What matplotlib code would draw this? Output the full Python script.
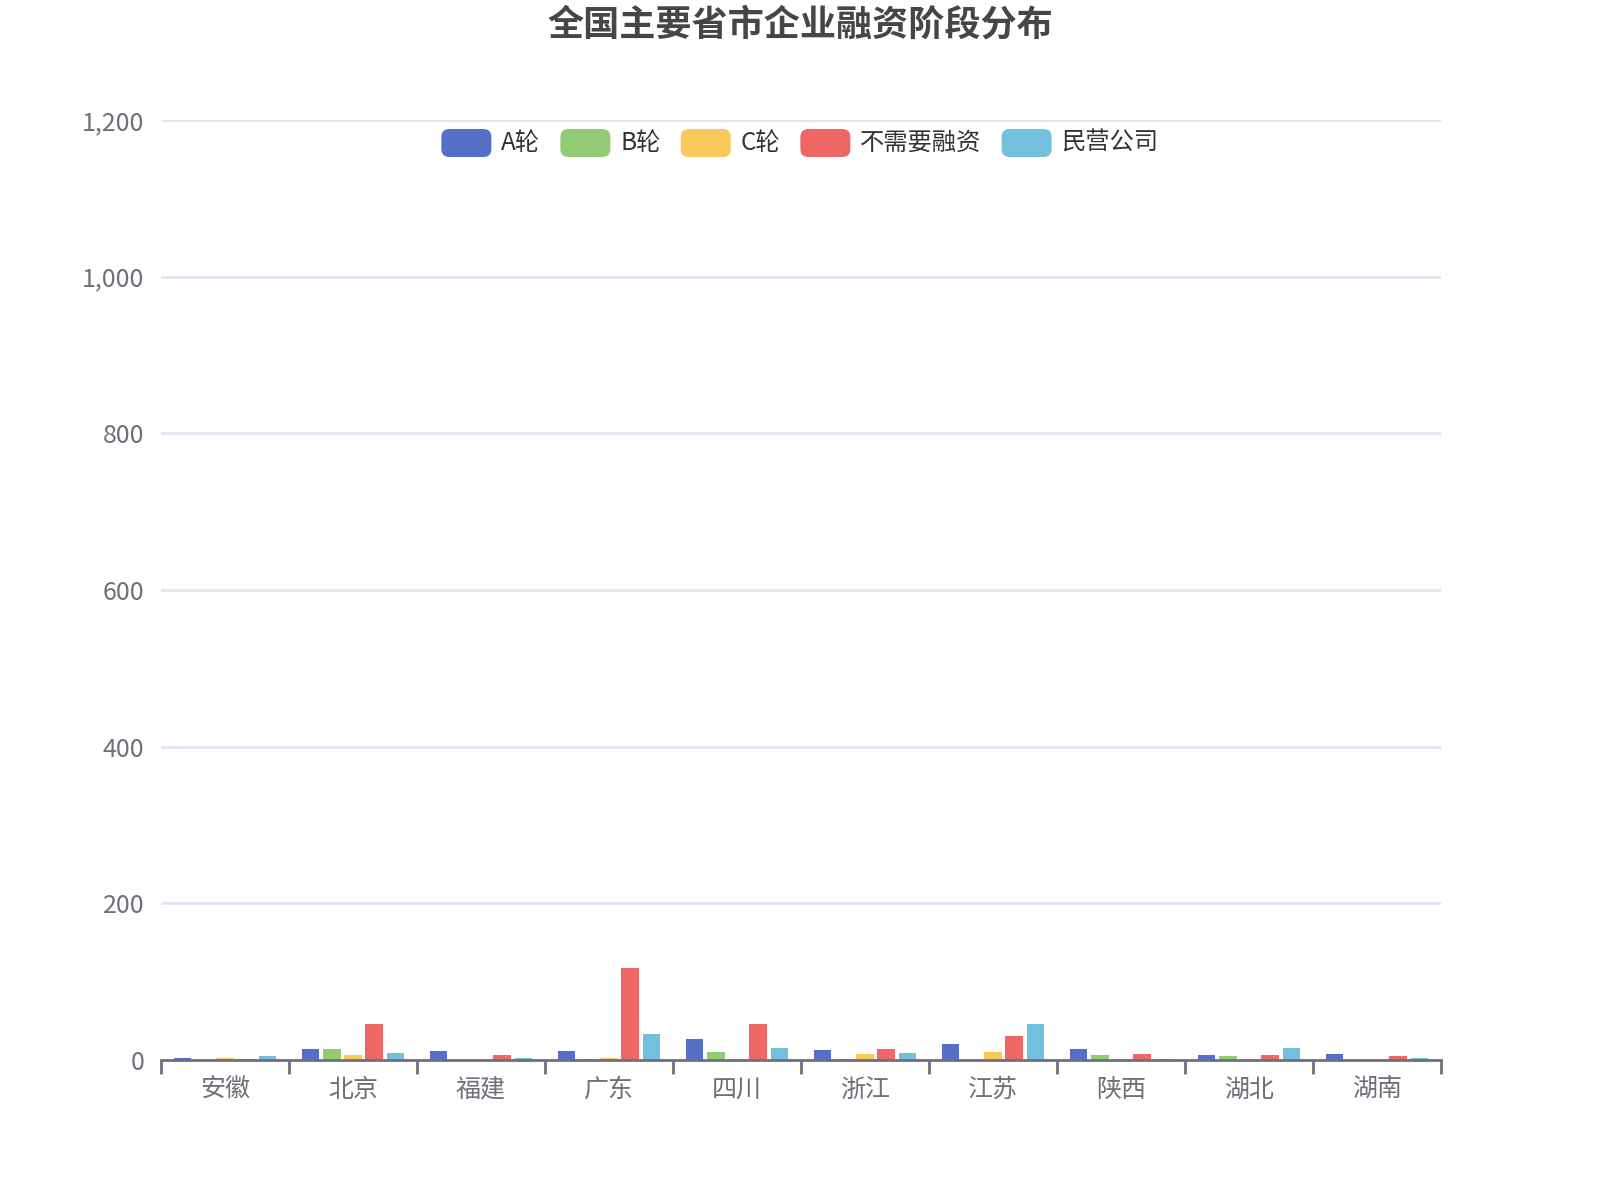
import numpy as np
import matplotlib.pyplot as plt
from matplotlib.patches import FancyBboxPatch

plt.rcParams['font.family'] = ['Noto Sans CJK SC', 'DejaVu Sans']

# 省市
provinces = ['安徽', '北京', '福建', '广东', '四川', '浙江', '江苏', '陕西', '湖北', '湖南']
series_names = ['A轮', 'B轮', 'C轮', '不需要融资', '民营公司']

# 各融资阶段企业数
a_round = [2, 14, 12, 11, 27, 13, 20, 14, 7, 8]
b_round = [0, 14, 0, 1, 10, 1, 0, 6, 5, 0]
c_round = [2, 6, 0, 3, 1, 8, 10, 1, 1, 0]
no_need = [1, 46, 6, 118, 46, 14, 31, 8, 6, 5]
private = [5, 9, 2, 33, 15, 9, 46, 1, 15, 3]

colors = ['#5470c6', '#91cc75', '#fac858', '#ee6666', '#73c0de']
axis_color = '#6E7079'

W, H = 1600, 1200
fig = plt.figure(figsize=(16, 12), dpi=100)
ax = fig.add_axes([161 / W, 1 - 1060 / H, 1280 / W, (1060 - 120) / H])

x = np.arange(len(provinces))
bw = 0.8 / 5.8
all_series = [a_round, b_round, c_round, no_need, private]
for i, vals in enumerate(all_series):
    ax.bar(x + (i - 2) * bw * 1.2, vals, width=bw, color=colors[i], zorder=3)

ax.set_xlim(-0.5, len(provinces) - 0.5)
ax.set_ylim(0, 1200)

yt = list(range(0, 1201, 200))
ax.set_yticks(yt)
ax.set_yticklabels([f'{v:,}' for v in yt])
ax.yaxis.grid(True, color='#E0E6F1', lw=2, zorder=0)
ax.tick_params(axis='y', length=0, pad=12, labelsize=18, labelcolor=axis_color)

# 刻度在类别边界，标签在中间
ax.set_xticks(np.arange(-0.5, len(provinces), 1))
ax.set_xticklabels([])
ax.set_xticks(x, minor=True)
ax.set_xticklabels(provinces, minor=True)
ax.tick_params(axis='x', which='major', length=10, width=2, color=axis_color, direction='out')
ax.tick_params(axis='x', which='minor', length=0, pad=12, labelsize=18, labelcolor=axis_color)

for s in ['top', 'right', 'left']:
    ax.spines[s].set_visible(False)
ax.spines['bottom'].set_color(axis_color)
ax.spines['bottom'].set_linewidth(2)
ax.spines['bottom'].set_zorder(5)

fig.text(0.5, 1 - 25 / H, '全国主要省市企业融资阶段分布', ha='center', va='center',
         fontsize=26, fontweight='bold', color='#464646')

# 图例（圆角色块）
renderer = fig.canvas.get_renderer()
icon_w, icon_h, gap_txt, gap_item = 50, 28, 10, 20
legend_y = 143
legend_fs = 17.5
widths = []
for name in series_names:
    t = fig.text(0, 0, name, fontsize=legend_fs)
    widths.append(t.get_window_extent(renderer).width)
    t.remove()
total = sum(icon_w + gap_txt + w for w in widths) + gap_item * (len(widths) - 1)
cx = W / 2 - total / 2
for name, c, w in zip(series_names, colors, widths):
    box = FancyBboxPatch((cx / W, (H - legend_y - icon_h / 2) / H), icon_w / W, icon_h / H,
                         boxstyle='round,pad=0,rounding_size=0.005', transform=fig.transFigure,
                         facecolor=c, edgecolor='none', mutation_aspect=W / H)
    fig.patches.append(box)
    fig.text((cx + icon_w + gap_txt) / W, (H - legend_y) / H, name, ha='left', va='center',
             fontsize=legend_fs, color='#333333')
    cx += icon_w + gap_txt + w + gap_item

fig.savefig('out.png', dpi=100)
